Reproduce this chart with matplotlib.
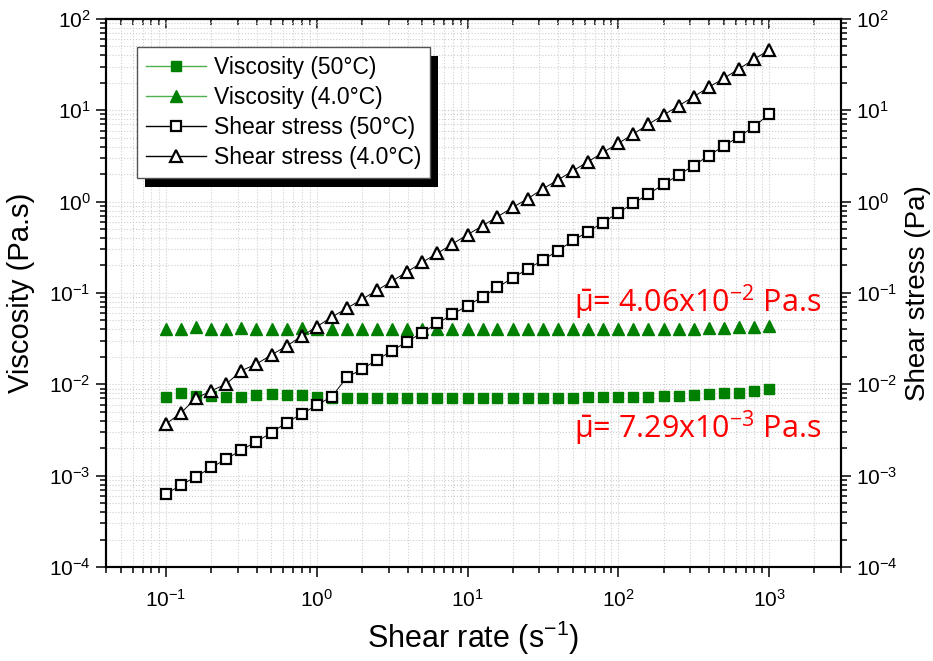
import numpy as np
import matplotlib
matplotlib.use("Agg")
import matplotlib.pyplot as plt
from matplotlib.lines import Line2D
from matplotlib.patches import Rectangle
from matplotlib.ticker import LogLocator, NullFormatter

plt.rcParams['font.family'] = ['Liberation Sans', 'DejaVu Sans']

# shear rate (1/s), 10 points per decade
shear_rate = [0.1, 0.126, 0.158, 0.2, 0.251, 0.316, 0.398, 0.501, 0.631, 0.794,
              1.0, 1.26, 1.58, 2.0, 2.51, 3.16, 3.98, 5.01, 6.31, 7.94,
              10, 12.6, 15.8, 20, 25.1, 31.6, 39.8, 50.1, 63.1, 79.4,
              100, 126, 158, 200, 251, 316, 398, 501, 631, 794, 1000]

# viscosity (Pa.s)
visc_50 = [0.0072, 0.0080, 0.0075, 0.0074, 0.0072, 0.0072, 0.0077, 0.0079, 0.0077, 0.0076,
           0.0072, 0.0071, 0.0071, 0.0071, 0.0071, 0.0071, 0.0071, 0.0071, 0.0071, 0.0071,
           0.0071, 0.0071, 0.0071, 0.0071, 0.0071, 0.0071, 0.0071, 0.0071, 0.0072, 0.0072,
           0.0072, 0.0073, 0.0073, 0.0075, 0.0075, 0.0077, 0.0079, 0.0080, 0.0081, 0.0084, 0.0089]
visc_4 = [0.0405, 0.0400, 0.0420, 0.0405, 0.0405, 0.0410, 0.0400, 0.0405, 0.0405, 0.0410,
          0.0405, 0.0405, 0.0405, 0.0405, 0.0405, 0.0405, 0.0405, 0.0405, 0.0405, 0.0405,
          0.0405, 0.0405, 0.0405, 0.0405, 0.0405, 0.0405, 0.0405, 0.0405, 0.0405, 0.0405,
          0.0405, 0.0405, 0.0405, 0.0405, 0.0405, 0.0405, 0.0410, 0.0415, 0.0420, 0.0420, 0.0435]

# shear stress (Pa)
stress_50 = [6.3e-4, 7.9e-4, 9.75e-4, 1.23e-3, 1.52e-3, 1.91e-3, 2.36e-3, 2.95e-3, 3.82e-3, 4.73e-3,
             5.94e-3, 7.33e-3, 0.0119, 0.0147, 0.0185, 0.0234, 0.0293, 0.0369, 0.0465, 0.0585,
             0.0726, 0.091, 0.115, 0.147, 0.183, 0.230, 0.290, 0.376, 0.471, 0.591,
             0.757, 0.959, 1.21, 1.55, 1.96, 2.48, 3.19, 4.07, 5.14, 6.62, 9.05]
stress_4 = [3.68e-3, 4.89e-3, 7.03e-3, 8.51e-3, 1.01e-2, 1.41e-2, 1.67e-2, 2.10e-2, 2.63e-2, 3.36e-2,
            4.28e-2, 5.46e-2, 6.79e-2, 8.55e-2, 0.107, 0.135, 0.171, 0.217, 0.272, 0.344,
            0.435, 0.546, 0.684, 0.867, 1.08, 1.38, 1.73, 2.18, 2.74, 3.47,
            4.35, 5.51, 7.03, 8.89, 11.2, 14.1, 17.9, 22.4, 28.4, 36.2, 45.8]

labels = ["Viscosity (50°C)", "Viscosity (4.0°C)", "Shear stress (50°C)", "Shear stress (4.0°C)"]
mean_labels = [r"$\bar{\mathdefault{μ}}$= 4.06x10$^{\mathdefault{-2}}$ Pa.s",
               r"$\bar{\mathdefault{μ}}$= 7.29x10$^{\mathdefault{-3}}$ Pa.s"]

GREEN = "#008000"

fig = plt.figure(figsize=(9.33, 6.61), dpi=100)
ax = fig.add_axes([0.1136, 0.1422, 0.7878, 0.8291])
ax2 = ax.twinx()

ax.plot(shear_rate, visc_50, ls="none", marker="s", ms=7, color=GREEN, mec=GREEN)
ax.plot(shear_rate, visc_4, ls="none", marker="^", ms=9, color=GREEN, mec=GREEN)
ax2.plot(shear_rate, stress_50, "-", color="black", lw=0.7, marker="s", ms=7,
         mfc="white", mec="black", mew=1.6)
ax2.plot(shear_rate, stress_4, "-", color="black", lw=0.7, marker="^", ms=9,
         mfc="white", mec="black", mew=1.6)

for a in (ax, ax2):
    a.set_xscale("log")
    a.set_yscale("log")
    a.set_ylim(1e-4, 1e2)
    a.yaxis.set_major_locator(LogLocator(base=10, numticks=20))
    a.yaxis.set_minor_locator(LogLocator(base=10, subs=np.arange(2, 10), numticks=20))
    a.yaxis.set_minor_formatter(NullFormatter())
    for s in a.spines.values():
        s.set_linewidth(1.5)
ax.set_xlim(0.04, 3000)
ax.xaxis.set_major_locator(LogLocator(base=10, numticks=20))
ax.xaxis.set_minor_locator(LogLocator(base=10, subs=np.arange(2, 10), numticks=20))
ax.xaxis.set_minor_formatter(NullFormatter())

ax.tick_params(which="major", direction="out", length=7.5, width=1.1, labelsize=15, top=False)
ax.tick_params(which="minor", direction="out", length=4.5, width=1.1, top=False)
ax.tick_params(axis="x", which="major", pad=8)
ax2.tick_params(which="major", direction="out", length=7.5, width=1.1, labelsize=15)
ax2.tick_params(which="minor", direction="out", length=4.5, width=1.1)

top = ax.secondary_xaxis("top")
top.tick_params(which="major", direction="in", length=7.5, width=1.1, labeltop=False)
top.tick_params(which="minor", direction="in", length=4.5, width=1.1)
top.xaxis.set_major_locator(LogLocator(base=10, numticks=20))
top.xaxis.set_minor_locator(LogLocator(base=10, subs=np.arange(2, 10), numticks=20))
top.xaxis.set_major_formatter(NullFormatter())
top.xaxis.set_minor_formatter(NullFormatter())
top.spines["top"].set_linewidth(1.5)

ax.grid(True, which="both", ls=":", lw=0.8, color="#cfcfcf")
ax.set_axisbelow(True)

ax.set_xlabel("Shear rate (s$^{\\mathdefault{-1}}$)", fontsize=22, labelpad=6)
ax.set_ylabel("Viscosity (Pa.s)", fontsize=21, labelpad=10)
ax2.set_ylabel("Shear stress (Pa)", fontsize=20, labelpad=5)

handles = [
    Line2D([], [], color="#4fae4f", lw=1, marker="s", ms=7, mfc=GREEN, mec=GREEN),
    Line2D([], [], color="#4fae4f", lw=1, marker="^", ms=9, mfc=GREEN, mec=GREEN),
    Line2D([], [], color="black", lw=1, marker="s", ms=7, mfc="white", mec="black", mew=1.6),
    Line2D([], [], color="black", lw=1, marker="^", ms=9, mfc="white", mec="black", mew=1.6),
]
leg = ax2.legend(handles, labels, loc="upper left", bbox_to_anchor=(0.042, 0.949),
                 borderaxespad=0, fontsize=16.5, frameon=True, fancybox=False,
                 edgecolor="#555555", framealpha=1, labelspacing=0.3,
                 handlelength=2.6, handletextpad=0.35, borderpad=0.4)
leg.get_frame().set_linewidth(1.0)
leg.set_zorder(6)

for txt, yf in zip(mean_labels, (0.4836, 0.2536)):
    ax2.text(0.637, yf, txt, transform=ax2.transAxes, color="red", fontsize=22,
             family=["Open Sans", "DejaVu Sans"], ha="left", va="center")

# black drop shadow behind the legend box
fig.canvas.draw()
bb = leg.get_frame().get_window_extent(fig.canvas.get_renderer())
bb_ax = bb.transformed(ax2.transAxes.inverted())
dx = 8 / (ax2.bbox.width)
dy = 9 / (ax2.bbox.height)
ax2.add_patch(Rectangle((bb_ax.x0 + dx, bb_ax.y0 - dy), bb_ax.width, bb_ax.height,
                        transform=ax2.transAxes, facecolor="black", edgecolor="none",
                        zorder=5.5, clip_on=False))

fig.savefig("out.png", dpi=100)
